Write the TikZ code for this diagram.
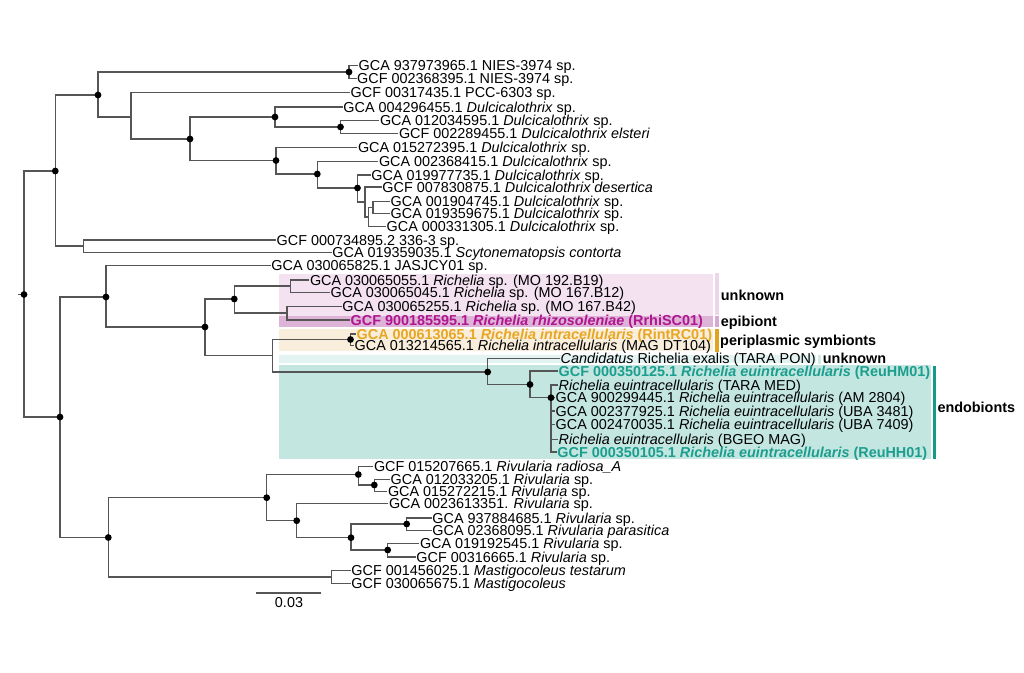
\documentclass[tikz,border=0pt]{standalone}
\usepackage{fontspec}
\setmainfont{Liberation Sans}
\definecolor{edgec}{HTML}{555555}
\definecolor{pinkbg}{HTML}{F4E2F1}
\definecolor{epibg}{HTML}{DDB3D8}
\definecolor{orangebg}{HTML}{F9EEDB}
\definecolor{tealltbg}{HTML}{E3F3F1}
\definecolor{tealbg}{HTML}{C3E6E1}
\definecolor{magtext}{HTML}{B0168F}
\definecolor{goldtext}{HTML}{E8A723}
\definecolor{tealtext}{HTML}{1C9E8E}
\definecolor{goldbar}{HTML}{E2A420}
\definecolor{tealbar}{HTML}{139A8B}
\definecolor{pinkbar}{HTML}{EDD6EA}
\definecolor{epibar}{HTML}{D7A8D1}
\definecolor{tealltbar}{HTML}{CFEBE7}
\newcommand{\tfont}{\fontsize{14.4}{14.4}\selectfont}
\begin{document}
\begin{tikzpicture}[x=1pt,y=-1pt,
  edge/.style={draw=edgec, line width=1.2pt},
  leaf/.style={anchor=west, inner xsep=0.5pt, inner ysep=0pt, text height=10.3pt, text depth=0pt, font=\tfont},
  grp/.style={anchor=west, inner sep=0pt, text height=10.3pt, text depth=0pt, font=\tfont\bfseries},
  ndot/.style={fill=black}]
\useasboundingbox (0,0) rectangle (1024,672);
\fill[white] (0,0) rectangle (1024,672);
% background boxes
\fill[pinkbg] (279.3,274) rectangle (712.7,315.7);
\fill[epibg] (279.3,315.7) rectangle (712.7,326.7);
\fill[orangebg] (279.3,329) rectangle (712.7,350.7);
\fill[tealltbg] (279.3,355) rectangle (816,363.3);
\fill[tealbg] (279.3,365) rectangle (930.7,459.3);
% side bars
\fill[pinkbar] (715,273.3) rectangle (719.3,315);
\fill[epibar] (715,316) rectangle (719.3,326.7);
\fill[goldbar] (715,329.3) rectangle (719.3,351.7);
\fill[tealltbar] (818.3,355) rectangle (821,363.5);
\fill[tealbar] (933.3,366) rectangle (936.3,459);
% group labels
\node[grp] (gunk1) at (720.7,295) {unknown};
\node[grp] (gepi) at (720.7,321.7) {epibiont};
\node[grp] (gperi) at (720,340.7) {periplasmic symbionts};
\node[grp] (gunk2) at (822.7,358.5) {unknown};
\node[grp] (gendo) at (937.3,407) {endobionts};
% internal nodes
\coordinate (stub) at (18,294.5);
\coordinate (root) at (24,294.5);
\coordinate (NA) at (55.3,171);
\coordinate (N1) at (98,95);
\coordinate (N2) at (349,72);
\coordinate (N3) at (131,117);
\coordinate (N4) at (190,139);
\coordinate (N5) at (275,117);
\coordinate (N6) at (340.5,127);
\coordinate (N7) at (276,160.5);
\coordinate (N8) at (317.3,174);
\coordinate (N9) at (357.5,188);
\coordinate (N10) at (365,202);
\coordinate (N11) at (368.5,217);
\coordinate (N12) at (373,207.5);
\coordinate (N13) at (83.3,246);
\coordinate (NB) at (60,417);
\coordinate (NR) at (106,297);
\coordinate (NRa) at (205,327);
\coordinate (NRb) at (234.3,299);
\coordinate (NRd) at (290.3,286);
\coordinate (NRe) at (287,313);
\coordinate (NRc) at (272.3,355.5);
\coordinate (NRf) at (350.5,339.5);
\coordinate (NRg) at (487.7,372);
\coordinate (NRh) at (530,384.5);
\coordinate (NRi) at (551,397.7);
\coordinate (NRiv) at (108.3,537.5);
\coordinate (NV1) at (266.7,497.7);
\coordinate (NV2) at (358.3,474.5);
\coordinate (NV4) at (374.3,485);
\coordinate (NV3) at (296.7,520.7);
\coordinate (NV5) at (351,537.7);
\coordinate (NV6) at (406.7,524);
\coordinate (NV7) at (387.7,550);
\coordinate (NM) at (331.7,577);
% leaves
\node[leaf] (L1) at (358,65.5) {GCA 937973965.1 NIES-3974 sp.};
\node[leaf] (L2) at (356.5,78.5) {GCF 002368395.1 NIES-3974 sp.};
\node[leaf] (L3) at (350,92.7) {GCF 00317435.1 PCC-6303 sp.};
\node[leaf] (L4) at (342.7,107) {GCA 004296455.1 \textit{Dulcicalothrix} sp.};
\node[leaf] (L5) at (379.3,120.5) {GCA 012034595.1 \textit{Dulcicalothrix} sp.};
\node[leaf] (L6) at (398.3,133.5) {GCF 002289455.1 \textit{Dulcicalothrix elsteri}};
\node[leaf] (L7) at (357.3,147.5) {GCA 015272395.1 \textit{Dulcicalothrix} sp.};
\node[leaf] (L8) at (378.3,161.5) {GCA 002368415.1 \textit{Dulcicalothrix} sp.};
\node[leaf] (L9) at (370.7,175) {GCA 019977735.1 \textit{Dulcicalothrix} sp.};
\node[leaf] (L10) at (381.7,187) {GCF 007830875.1 \textit{Dulcicalothrix desertica}};
\node[leaf] (L11) at (390,201.7) {GCA 001904745.1 \textit{Dulcicalothrix} sp.};
\node[leaf] (L12) at (390,213.5) {GCA 019359675.1 \textit{Dulcicalothrix} sp.};
\node[leaf] (L13) at (386,226.7) {GCA 000331305.1 \textit{Dulcicalothrix} sp.};
\node[leaf] (L14) at (276,240) {GCF 000734895.2 336-3 sp.};
\node[leaf] (L15) at (331.7,252.5) {GCA 019359035.1 \textit{Scytonematopsis contorta}};
\node[leaf] (L16) at (270.7,265.5) {GCA 030065825.1 JASJCY01 sp.};
\node[leaf] (L17) at (309.3,280) {GCA 030065055.1 \textit{Richelia} sp. (MO 192.B19)};
\node[leaf] (L18) at (330,292.5) {GCA 030065045.1 \textit{Richelia} sp. (MO 167.B12)};
\node[leaf] (L19) at (341.7,306.5) {GCA 030065255.1 \textit{Richelia} sp. (MO 167.B42)};
\node[leaf, text=magtext] (L20) at (350,320) {\textbf{GCF 900185595.1 \textit{Richelia rhizosoleniae} (RrhiSC01)}};
\node[leaf, text=goldtext] (L21) at (356,334) {\textbf{GCA 000613065.1 \textit{Richelia intracellularis} (RintRC01)}};
\node[leaf] (L22) at (354,345.5) {GCA 013214565.1 \textit{Richelia intracellularis} (MAG DT104)};
\node[leaf] (L23) at (560,358.5) {\textit{Candidatus} Richelia exalis (TARA PON)};
\node[leaf, text=tealtext] (L24) at (558,371) {\textbf{GCF 000350125.1 \textit{Richelia euintracellularis} (ReuHM01)}};
\node[leaf] (L25) at (558,385) {\textit{Richelia euintracellularis} (TARA MED)};
\node[leaf] (L26) at (555,397.7) {GCA 900299445.1 \textit{Richelia euintracellularis} (AM 2804)};
\node[leaf] (L27) at (555,411) {GCA 002377925.1 \textit{Richelia euintracellularis} (UBA 3481)};
\node[leaf] (L28) at (555,424.3) {GCA 002470035.1 \textit{Richelia euintracellularis} (UBA 7409)};
\node[leaf] (L29) at (558,439.5) {\textit{Richelia euintracellularis} (BGEO MAG)};
\node[leaf, text=tealtext] (L30) at (556.7,452) {\textbf{GCF 000350105.1 \textit{Richelia euintracellularis} (ReuHH01)}};
\node[leaf] (L31) at (373.3,466.3) {GCF 015207665.1 \textit{Rivularia radiosa\_A}};
\node[leaf] (L32) at (390,479.3) {GCA 012033205.1 \textit{Rivularia} sp.};
\node[leaf] (L33) at (387.3,491.3) {GCA 015272215.1 \textit{Rivularia} sp.};
\node[leaf] (L34) at (388.3,503.3) {GCA 0023613351. \textit{Rivularia} sp.};
\node[leaf] (L35) at (431.7,518) {GCA 937884685.1 \textit{Rivularia} sp.};
\node[leaf] (L36) at (431.7,530.5) {GCA 02368095.1 \textit{Rivularia parasitica}};
\node[leaf] (L37) at (419.3,543.3) {GCA 019192545.1 \textit{Rivularia} sp.};
\node[leaf] (L38) at (415.7,557) {GCF 00316665.1 \textit{Rivularia} sp.};
\node[leaf] (L39) at (350.7,570.7) {GCF 001456025.1 \textit{Mastigocoleus testarum}};
\node[leaf] (L40) at (350.7,583.5) {GCF 030065675.1 \textit{Mastigocoleus}};
% edges
\draw[edge] (stub) -- (root);
\draw[edge] (root) |- (NA);
\draw[edge] (root) |- (NB);
\draw[edge] (NA) |- (N1);
\draw[edge] (NA) |- (N13);
\draw[edge] (N1) |- (N2);
\draw[edge] (N1) |- (N3);
\draw[edge] (N2) |- (L1.west);
\draw[edge] (N2) |- (L2.west);
\draw[edge] (N3) |- (L3.west);
\draw[edge] (N3) |- (N4);
\draw[edge] (N4) |- (N5);
\draw[edge] (N4) |- (N7);
\draw[edge] (N5) |- (L4.west);
\draw[edge] (N5) |- (N6);
\draw[edge] (N6) |- (L5.west);
\draw[edge] (N6) |- (L6.west);
\draw[edge] (N7) |- (L7.west);
\draw[edge] (N7) |- (N8);
\draw[edge] (N8) |- (L8.west);
\draw[edge] (N8) |- (N9);
\draw[edge] (N9) |- (L9.west);
\draw[edge] (N9) |- (N10);
\draw[edge] (N10) |- (L10.west);
\draw[edge] (N10) |- (N11);
\draw[edge] (N11) |- (N12);
\draw[edge] (N11) |- (L13.west);
\draw[edge] (N12) |- (L11.west);
\draw[edge] (N12) |- (L12.west);
\draw[edge] (N13) |- (L14.west);
\draw[edge] (N13) |- (L15.west);
\draw[edge] (NB) |- (NR);
\draw[edge] (NB) |- (NRiv);
\draw[edge] (NR) |- (L16.west);
\draw[edge] (NR) |- (NRa);
\draw[edge] (NRa) |- (NRb);
\draw[edge] (NRa) |- (NRc);
\draw[edge] (NRb) |- (NRd);
\draw[edge] (NRb) |- (NRe);
\draw[edge] (NRd) |- (L17.west);
\draw[edge] (NRd) |- (L18.west);
\draw[edge] (NRe) |- (L19.west);
\draw[edge] (NRe) |- (L20.west);
\draw[edge] (NRc) |- (NRf);
\draw[edge] (NRc) |- (NRg);
\draw[edge] (NRf) |- (L21.west);
\draw[edge] (NRf) |- (L22.west);
\draw[edge] (NRg) |- (L23.west);
\draw[edge] (NRg) |- (NRh);
\draw[edge] (NRh) |- (L24.west);
\draw[edge] (NRh) |- (NRi);
\foreach \k in {25,...,30} {\draw[edge] (NRi) |- (L\k.west);}
\draw[edge] (NRiv) |- (NV1);
\draw[edge] (NRiv) |- (NM);
\draw[edge] (NV1) |- (NV2);
\draw[edge] (NV1) |- (NV3);
\draw[edge] (NV2) |- (L31.west);
\draw[edge] (NV2) |- (NV4);
\draw[edge] (NV4) |- (L32.west);
\draw[edge] (NV4) |- (L33.west);
\draw[edge] (NV3) |- (L34.west);
\draw[edge] (NV3) |- (NV5);
\draw[edge] (NV5) |- (NV6);
\draw[edge] (NV5) |- (NV7);
\draw[edge] (NV6) |- (L35.west);
\draw[edge] (NV6) |- (L36.west);
\draw[edge] (NV7) |- (L37.west);
\draw[edge] (NV7) |- (L38.west);
\draw[edge] (NM) |- (L39.west);
\draw[edge] (NM) |- (L40.west);
% node dots
\foreach \n in {root,NA,N1,N2,N4,N5,N6,N7,N8,N9,NB,NR,NRa,NRb,NRf,NRg,NRh,NRi,NRiv,NV1,NV2,NV3,NV4,NV5,NV6,NV7}
  {\fill[ndot] (\n) circle[radius=3.4pt];}
% scale bar
\coordinate (sb1) at (256,593);
\coordinate (sb2) at (320.7,593);
\draw[edge] (sb1) -- (sb2);
\node[leaf, anchor=center] (sblabel) at (289,602) {0.03};
\end{tikzpicture}
\end{document}
